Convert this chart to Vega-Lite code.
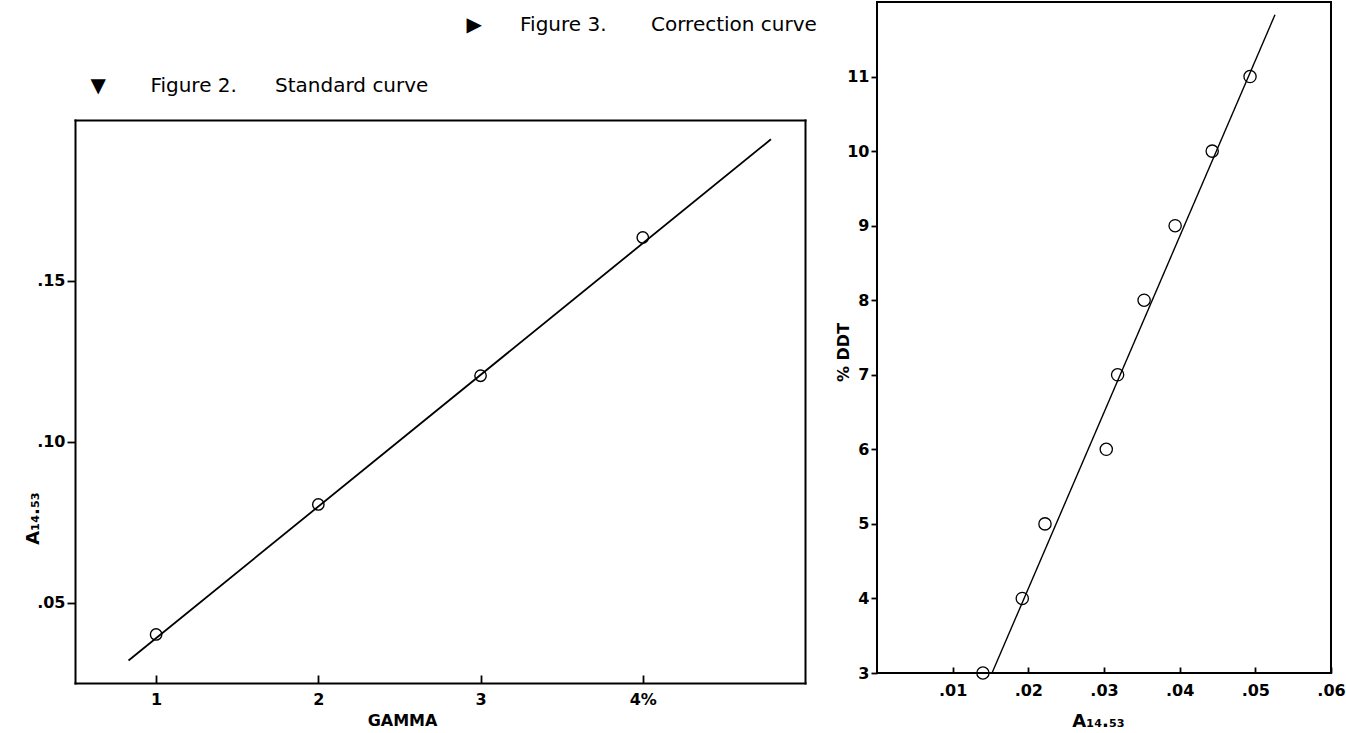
{
  "$schema": "https://vega.github.io/schema/vega-lite/v6.json",
  "background": "white",
  "padding": {"left": 24, "top": 1, "right": 8, "bottom": 4},
  "spacing": 17,
  "config": {
    "font": "DejaVu Sans",
    "view": {"stroke": "black", "strokeWidth": 2},
    "axis": {
      "domain": false,
      "grid": false,
      "domainColor": "black",
      "domainWidth": 2,
      "domainCap": "square",
      "labelFont": "DejaVu Sans",
      "labelFontSize": 16,
      "labelFontWeight": "bold",
      "labelColor": "black",
      "tickColor": "black",
      "tickWidth": 1.8,
      "titleFont": "DejaVu Sans",
      "titleFontSize": 16,
      "titleFontWeight": "bold",
      "titleColor": "black"
    }
  },
  "datasets": {
    "std_points": [
      {"gamma": 1, "a": 0.0401},
      {"gamma": 2, "a": 0.0805},
      {"gamma": 3, "a": 0.1205},
      {"gamma": 4, "a": 0.1635}
    ],
    "std_line": [
      {"gamma": 0.83, "a": 0.032},
      {"gamma": 4.79, "a": 0.194}
    ],
    "corr_points": [
      {"a": 0.014, "ddt": 3},
      {"a": 0.0192, "ddt": 4},
      {"a": 0.0222, "ddt": 5},
      {"a": 0.0303, "ddt": 6},
      {"a": 0.0318, "ddt": 7},
      {"a": 0.0353, "ddt": 8},
      {"a": 0.0394, "ddt": 9},
      {"a": 0.0443, "ddt": 10},
      {"a": 0.0493, "ddt": 11}
    ],
    "corr_line": [
      {"a": 0.0152, "ddt": 3},
      {"a": 0.0526, "ddt": 11.83}
    ]
  },
  "hconcat": [
    {
      "width": 730,
      "height": 681,
      "view": {"stroke": null},
      "layer": [
        {
          "data": {"name": "std_line"},
          "mark": {"type": "line", "color": "black", "strokeWidth": 1.8},
          "encoding": {
            "x": {
              "field": "gamma", "type": "quantitative",
              "scale": {"domain": [0.5, 5], "nice": false, "zero": false},
              "axis": {
                "domain": true,
                "title": "GAMMA",
                "values": [1, 2, 3, 4],
                "labelExpr": "datum.value == 4 ? '4%' : datum.label",
                "labelFlush": false,
                "tickSize": -8,
                "labelPadding": 16,
                "titleX": 327,
                "titleY": 37,
                "titleBaseline": "middle"
              }
            },
            "y": {
              "field": "a", "type": "quantitative",
              "scale": {"domain": [0.025, 0.2], "range": [681, 118], "nice": false, "zero": false},
              "axis": {
                "domain": true,
                "title": "A₁₄.₅₃",
                "titleFontSize": 18,
                "values": [0.05, 0.1, 0.15],
                "labelExpr": "substring(format(datum.value, '.2f'), 1)",
                "tickSize": 8,
                "labelPadding": 2,
                "titleX": -42,
                "titleY": 516,
                "titleBaseline": "middle"
              }
            }
          }
        },
        {
          "data": {"name": "std_points"},
          "mark": {"type": "point", "shape": "circle", "filled": false, "color": "black", "size": 130, "strokeWidth": 1.4, "opacity": 1},
          "encoding": {
            "x": {
              "field": "gamma", "type": "quantitative",
              "axis": {
                "orient": "top",
                "offset": -118,
                "domain": true,
                "labels": false,
                "ticks": false,
                "title": "▼\u00a0\u00a0\u00a0\u00a0\u00a0\u00a0\u00a0Figure 2.\u00a0\u00a0\u00a0\u00a0\u00a0\u00a0Standard curve",
                "titleX": 15,
                "titleY": -35,
                "titleAlign": "left",
                "titleBaseline": "middle",
                "titleFontWeight": "normal",
                "titleFontSize": 20
              }
            },
            "y": {
              "field": "a", "type": "quantitative",
              "axis": {
                "orient": "right",
                "domain": true,
                "labels": false,
                "ticks": false,
                "title": "▶\u00a0\u00a0\u00a0\u00a0\u00a0\u00a0Figure 3.\u00a0\u00a0\u00a0\u00a0\u00a0\u00a0\u00a0Correction curve",
                "titleAngle": 0,
                "titleX": -339,
                "titleY": 22,
                "titleAlign": "left",
                "titleBaseline": "middle",
                "titleFontWeight": "normal",
                "titleFontSize": 20
              }
            }
          }
        }
      ],
      "resolve": {"axis": {"x": "independent", "y": "independent"}}
    },
    {
      "width": 454,
      "height": 671,
      "layer": [
        {
          "data": {"name": "corr_line"},
          "mark": {"type": "line", "color": "black", "strokeWidth": 1.4},
          "encoding": {
            "x": {
              "field": "a", "type": "quantitative",
              "scale": {"domain": [0, 0.06], "nice": false, "zero": false},
              "axis": {
                "title": "A₁₄.₅₃",
                "titleFontSize": 18,
                "values": [0.01, 0.02, 0.03, 0.04, 0.05, 0.06],
                "labelExpr": "substring(format(datum.value, '.2f'), 1)",
                "labelFlush": false,
                "tickSize": -6,
                "labelPadding": 15,
                "titleX": 221,
                "titleY": 48,
                "titleBaseline": "middle"
              }
            },
            "y": {
              "field": "ddt", "type": "quantitative",
              "scale": {"domain": [3, 12], "nice": false, "zero": false},
              "axis": {
                "title": "% DDT",
                "values": [3, 4, 5, 6, 7, 8, 9, 10, 11],
                "format": "d",
                "tickSize": 6,
                "labelPadding": 2,
                "titleX": -34,
                "titleY": 350,
                "titleBaseline": "middle"
              }
            }
          }
        },
        {
          "data": {"name": "corr_points"},
          "mark": {"type": "point", "shape": "circle", "filled": false, "color": "black", "size": 150, "strokeWidth": 1.3, "opacity": 1},
          "encoding": {
            "x": {"field": "a", "type": "quantitative"},
            "y": {"field": "ddt", "type": "quantitative"}
          }
        }
      ]
    }
  ]
}
